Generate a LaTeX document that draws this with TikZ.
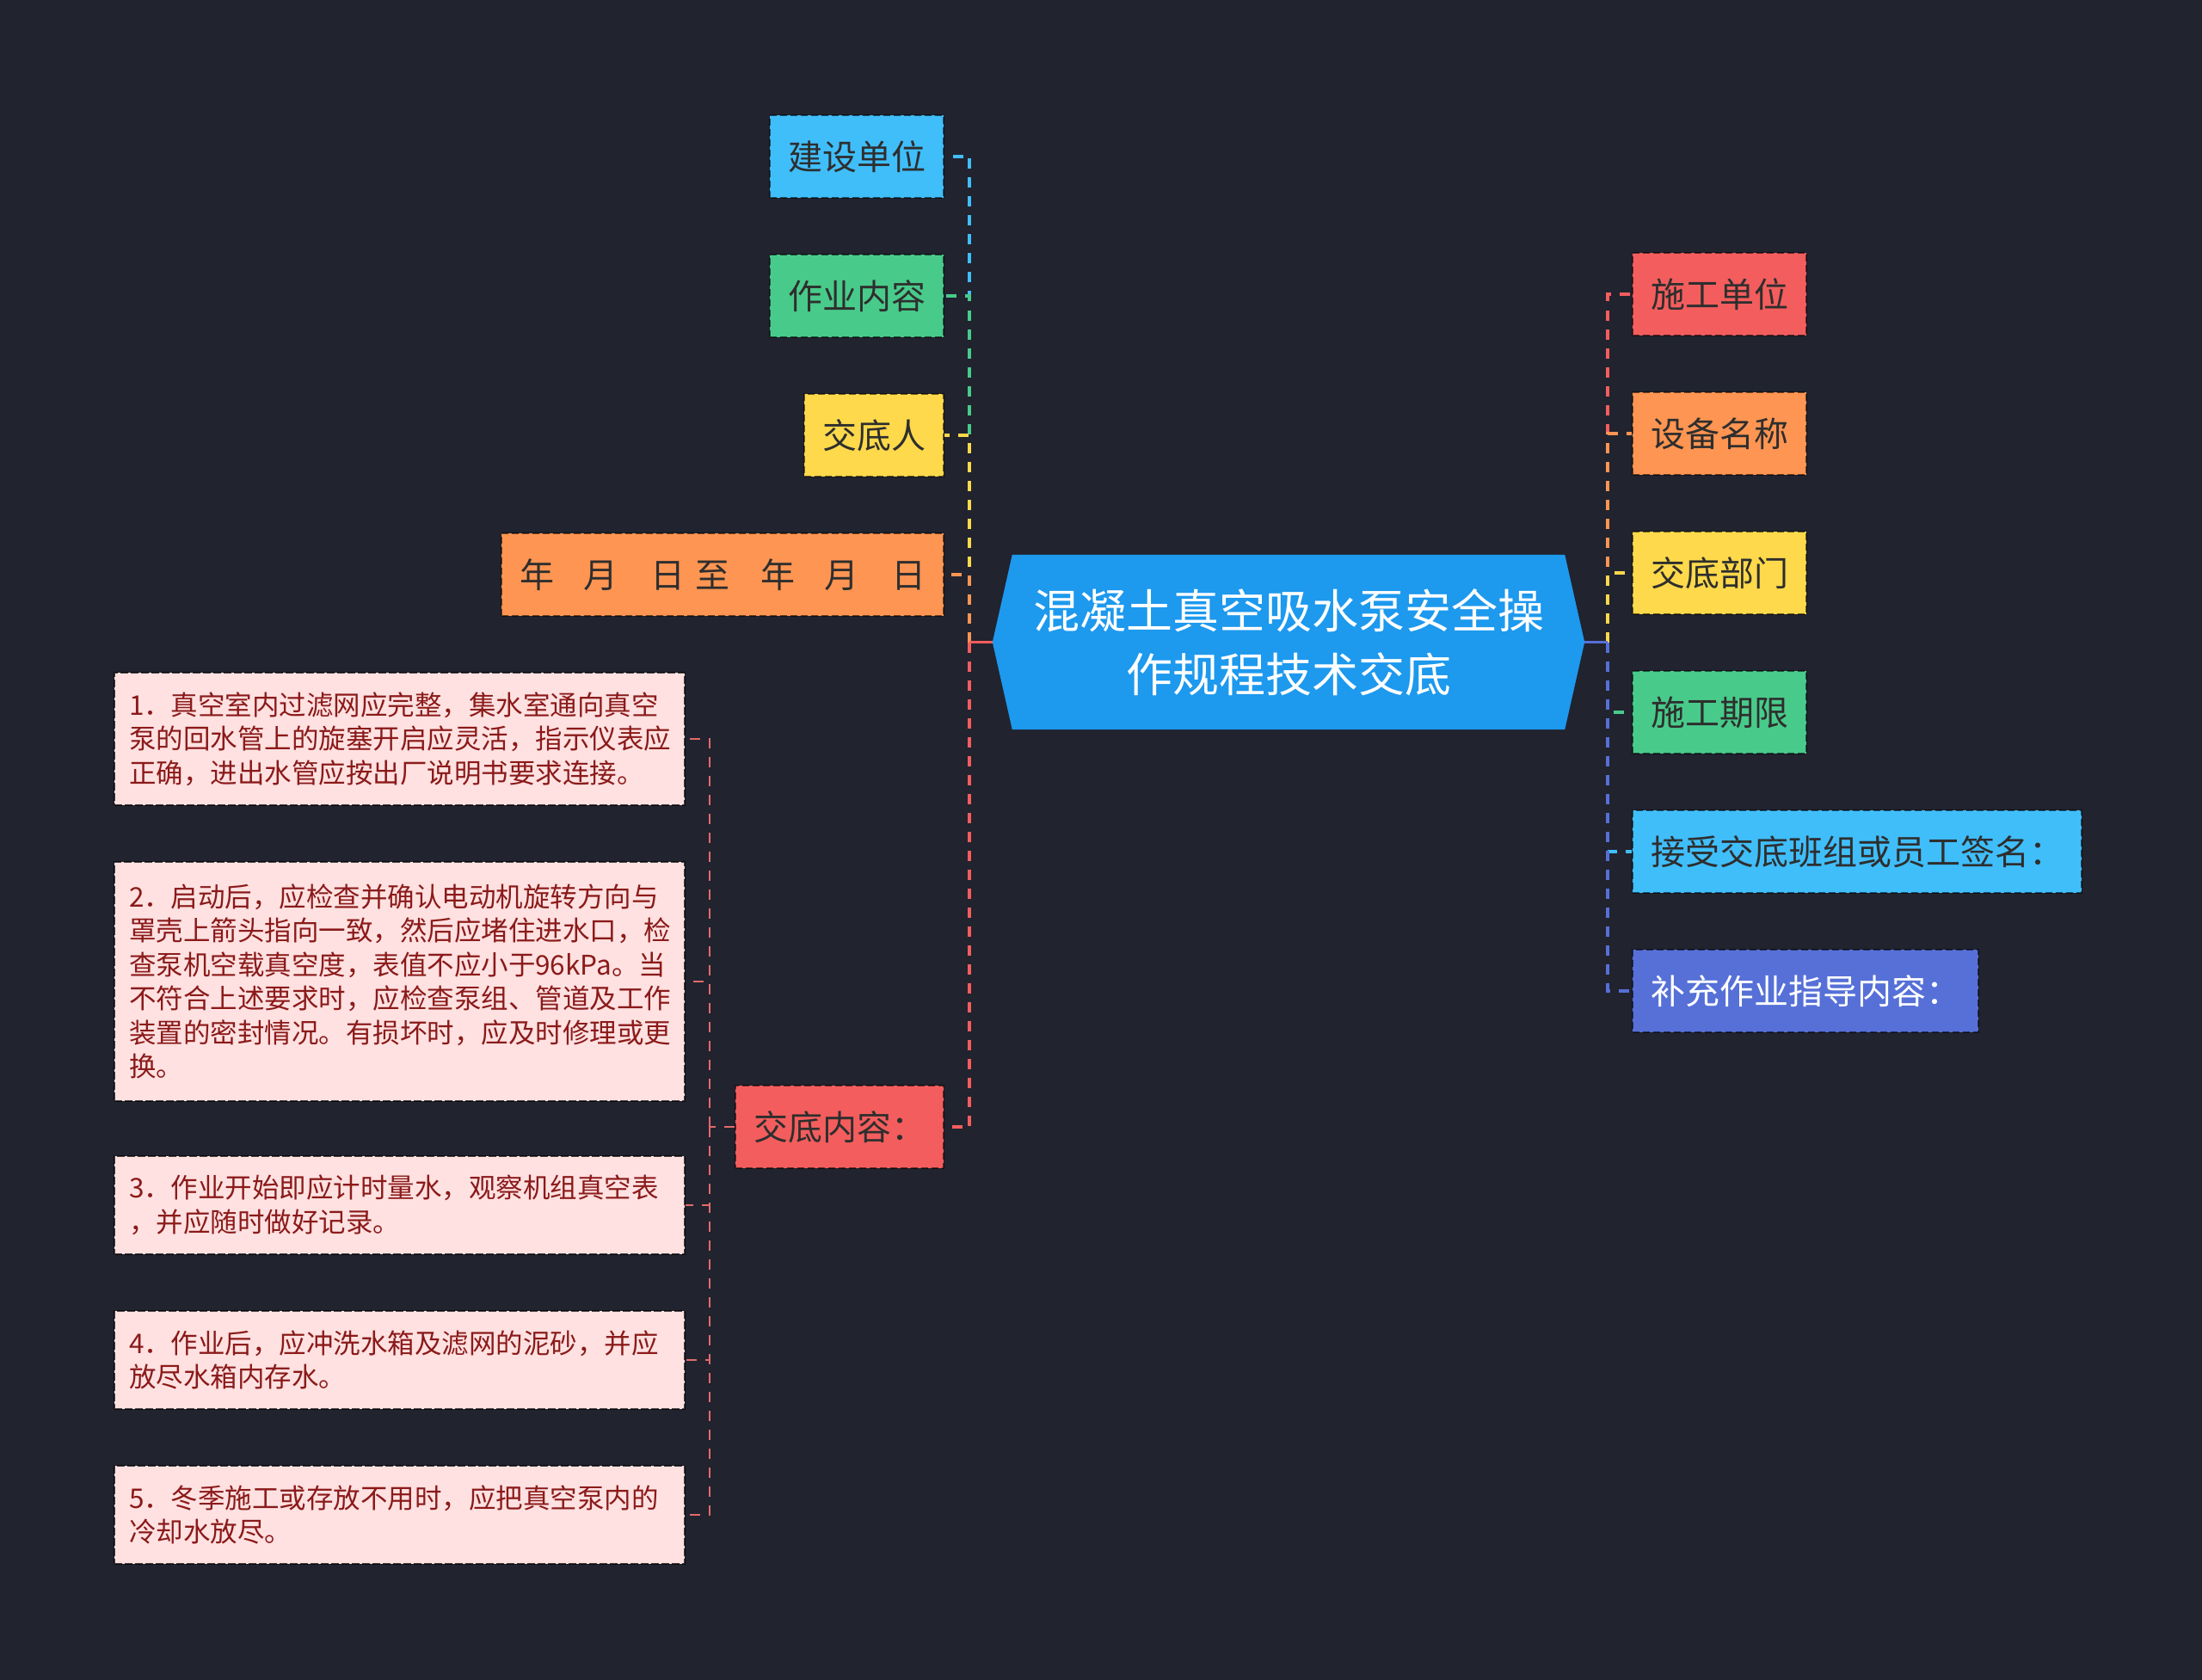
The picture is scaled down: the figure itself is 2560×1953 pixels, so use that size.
\documentclass[tikz,border=0pt]{standalone}
\usepackage{fontspec}
\setmainfont{Noto Sans CJK SC}
\usetikzlibrary{backgrounds}
\definecolor{bg}{HTML}{21232F}
\definecolor{cblue}{HTML}{40BEFA}
\definecolor{cgreen}{HTML}{48CB8A}
\definecolor{cyellow}{HTML}{FDD94B}
\definecolor{corange}{HTML}{FE9552}
\definecolor{cred}{HTML}{F45D5D}
\definecolor{cindigo}{HTML}{5670D8}
\definecolor{croot}{HTML}{1D99EE}
\definecolor{pinkf}{HTML}{FFE1E1}
\definecolor{dred}{HTML}{8B1A1A}
\definecolor{dline}{HTML}{E26A6A}
\definecolor{txtdark}{HTML}{2E2E2E}
\begin{document}
\begin{tikzpicture}[x=1pt,y=-1pt,
  mainbox/.style={rectangle, fill=#1, draw=black, draw opacity=0.55, line width=2pt,
    dash pattern=on 8pt off 4pt, minimum height=96pt, inner xsep=21pt, inner ysep=0pt,
    font=\fontsize{40}{48}\selectfont, text=txtdark},
  detailbox/.style={rectangle, fill=pinkf, draw=black, draw opacity=0.7, line width=2pt,
    dash pattern=on 9pt off 3pt, text width=629pt, inner xsep=17pt, inner ysep=0pt,
    minimum height=#1, align=left, font=\fontsize{31.5}{39.5}\selectfont, text=dred},
  conn/.style={draw=#1, line width=3.5pt, dash pattern=on 12pt off 10pt},
  stubline/.style={draw=#1, line width=3.5pt},
  dconn/.style={draw=dline, line width=2.5pt, dash pattern=on 12pt off 10pt}]
\useasboundingbox (0,0) rectangle (2560,1953);

% root
\node[rectangle, minimum width=688pt, minimum height=203pt, inner sep=0pt, align=center,
  text=white, font=\fontsize{54}{74}\selectfont] (root) at (1498,746.5)
  {混凝土真空吸水泵安全操\\作规程技术交底};
\begin{pgfonlayer}{background}
\fill[bg] (0,0) rectangle (2560,1953);
\fill[croot] (root.west) -- ([xshift=23pt]root.north west) -- ([xshift=-23pt]root.north east)
  -- (root.east) -- ([xshift=-23pt]root.south east) -- ([xshift=23pt]root.south west) -- cycle;
\end{pgfonlayer}

% left nodes
\node[mainbox=cblue, anchor=east] (l1) at (1098,182) {建设单位};
\node[mainbox=cgreen, anchor=east] (l2) at (1098,344) {作业内容};
\node[mainbox=cyellow, anchor=east] (l3) at (1098,506) {交底人};
\node[mainbox=corange, anchor=east] (l4) at (1098,668)
  {年\hspace{34pt}月\hspace{38pt}日\hspace{12pt}至\hspace{36pt}年\hspace{34pt}月\hspace{38pt}日};
\node[mainbox=cred, anchor=east] (l5) at (1098,1310) {交底内容：};

% right nodes
\node[mainbox=cred, anchor=west] (r1) at (1897,342) {施工单位};
\node[mainbox=corange, anchor=west] (r2) at (1897,504) {设备名称};
\node[mainbox=cyellow, anchor=west] (r3) at (1897,666) {交底部门};
\node[mainbox=cgreen, anchor=west] (r4) at (1897,828) {施工期限};
\node[mainbox=cblue, anchor=west] (r5) at (1897,990) {接受交底班组或员工签名：};
\node[mainbox=cindigo, anchor=west, text=white] (r6) at (1897,1152) {补充作业指导内容：};

% detail nodes
\node[detailbox=154pt, anchor=east] (d1) at (797,859)
  {1．真空室内过滤网应完整，集水室通向真空\\泵的回水管上的旋塞开启应灵活，指示仪表应\\正确，进出水管应按出厂说明书要求连接。};
\node[detailbox=278pt, anchor=east] (d2) at (797,1141)
  {2．启动后，应检查并确认电动机旋转方向与\\罩壳上箭头指向一致，然后应堵住进水口，检\\查泵机空载真空度，表值不应小于96kPa。当\\不符合上述要求时，应检查泵组、管道及工作\\装置的密封情况。有损坏时，应及时修理或更\\换。};
\node[detailbox=114pt, anchor=east] (d3) at (797,1401)
  {3．作业开始即应计时量水，观察机组真空表\\，并应随时做好记录。};
\node[detailbox=114pt, anchor=east] (d4) at (797,1581)
  {4．作业后，应冲洗水箱及滤网的泥砂，并应\\放尽水箱内存水。};
\node[detailbox=114pt, anchor=east] (d5) at (797,1761)
  {5．冬季施工或存放不用时，应把真空泵内的\\冷却水放尽。};

% connectors left
\coordinate (lb) at (1127,746.5);
\foreach \n/\c in {l1/cblue,l2/cgreen,l3/cyellow,l4/corange,l5/cred}
  \draw[conn=\c] (lb) |- (\n.east);
\draw[stubline=cred] (root.west) -- (lb);

% connectors right
\coordinate (rb) at (1869,746.5);
\foreach \n/\c in {r1/cred,r2/corange,r3/cyellow,r4/cgreen,r5/cblue,r6/cindigo}
  \draw[conn=\c] (rb) |- (\n.west);
\draw[stubline=cindigo] (root.east) -- (rb);

% detail connectors
\coordinate (db) at (825,1310);
\draw[dconn] (l5.west) -- (db);
\foreach \n in {d1,d2,d3,d4,d5}
  \draw[dconn] (db) |- (\n.east);
\end{tikzpicture}
\end{document}
